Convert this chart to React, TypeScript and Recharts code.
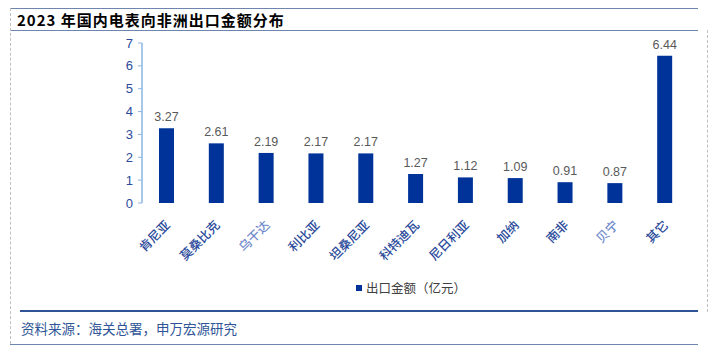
import React from "react"
import { BarChart, Bar, XAxis, YAxis, LabelList } from "recharts"

const countries = ["肯尼亚", "莫桑比克", "乌干达", "利比亚", "坦桑尼亚", "科特迪瓦", "尼日利亚", "加纳", "南非", "贝宁", "其它"]
const exportValues = [3.27, 2.61, 2.19, 2.17, 2.17, 1.27, 1.12, 1.09, 0.91, 0.87, 6.44]
const yTicks = [0, 1, 2, 3, 4, 5, 6, 7]
const boundaryTicks = [0, 1, 2, 3, 4, 5, 6, 7, 8, 9, 10, 11]

const data = countries.map((name, i) => ({ name, value: exportValues[i] }))

const FONT = '"Liberation Sans", Arial, "Noto Sans CJK SC", sans-serif'
const CJK = '"Noto Sans CJK SC", "Liberation Sans", sans-serif'
const AXIS_BLUE = "#8DB4E2"
const LABEL_BLUE = "#2B4B9B"

// a couple of the labels come out lighter in the original
const lighter: Record<string, string> = { "乌干达": "#6E8ACB", "贝宁": "#6E8ACB" }

function CountryTick(props: any) {
  const { x, y, payload } = props
  const ax = x + 4
  const ay = y + 17
  return (
    <text
      x={ax}
      y={ay}
      transform={`rotate(-45 ${ax} ${ay})`}
      textAnchor="end"
      fontSize={12.5}
      fontWeight={500}
      fontFamily={CJK}
      fill={lighter[payload.value] || LABEL_BLUE}
    >
      {payload.value}
    </text>
  )
}

export default function App() {
  return (
    <div style={{ position: "absolute", left: 0, top: 0, width: 719, height: 354, background: "#fff", overflow: "hidden" }}>
      {/* frame */}
      <div style={{ position: "absolute", left: 10, top: 8, width: 688, borderTop: "1px solid #6E86AD" }} />
      <div style={{ position: "absolute", left: 10, top: 30, width: 688, borderTop: "1px solid #6E86AD" }} />
      <div style={{ position: "absolute", left: 10, top: 8, height: 336, borderLeft: "1px dashed #BFBFBF" }} />
      <div style={{ position: "absolute", left: 707, top: 30, height: 282, borderLeft: "1px dashed #BFBFBF" }} />
      <div style={{ position: "absolute", left: 10, top: 344, width: 688, borderTop: "1px solid #6E86AD" }} />

      <div style={{ position: "absolute", left: 17, top: 9, fontFamily: CJK, fontWeight: 700, fontSize: 15, letterSpacing: 1, color: "#000", whiteSpace: "nowrap" }}>
        2023 年国内电表向非洲出口金额分布
      </div>

      <div style={{ position: "absolute", left: 0, top: 30 }}>
        <BarChart width={719} height={260} data={data} margin={{ top: 13, right: 29, left: 0, bottom: 17 }} barSize={15}>
          <XAxis
            xAxisId="edges"
            type="number"
            domain={[0, 11]}
            ticks={boundaryTicks}
            height={0}
            tick={() => <g />}
            tickLine={{ stroke: AXIS_BLUE }}
            tickSize={4}
            axisLine={{ stroke: AXIS_BLUE, strokeWidth: 1.5 }}
            allowDataOverflow
          />
          <XAxis
            dataKey="name"
            height={70}
            interval={0}
            tick={<CountryTick />}
            tickLine={false}
            axisLine={false}
            tickSize={4}
          />
          <YAxis
            width={142}
            domain={[0, 7]}
            ticks={yTicks}
            interval={0}
            tick={{ fill: LABEL_BLUE, fontSize: 13, fontFamily: FONT }}
            tickLine={{ stroke: AXIS_BLUE }}
            tickSize={4}
            tickMargin={5}
            axisLine={{ stroke: AXIS_BLUE, strokeWidth: 1.5 }}
          />
          <Bar dataKey="value" fill="#003399" isAnimationActive={false}>
            <LabelList dataKey="value" position="top" offset={7} fill="#595959" fontSize={12.5} fontFamily={FONT} formatter={(v: any) => Number(v).toFixed(2)} />
          </Bar>
        </BarChart>
      </div>

      {/* legend */}
      <div style={{ position: "absolute", left: 356, top: 278, display: "flex", alignItems: "center", fontFamily: CJK, fontSize: 12.5, color: "#404040", whiteSpace: "nowrap" }}>
        <span style={{ display: "inline-block", width: 6, height: 6, background: "#003399", marginRight: 4 }} />
        出口金额（亿元）
      </div>

      {/* source */}
      <div style={{ position: "absolute", left: 20, top: 310, width: 678, borderTop: "2px solid #2F5597" }} />
      <div style={{ position: "absolute", left: 21, top: 318, fontFamily: CJK, fontSize: 13.5, color: "#2F5597", whiteSpace: "nowrap" }}>
        资料来源：海关总署，申万宏源研究
      </div>
    </div>
  )
}
